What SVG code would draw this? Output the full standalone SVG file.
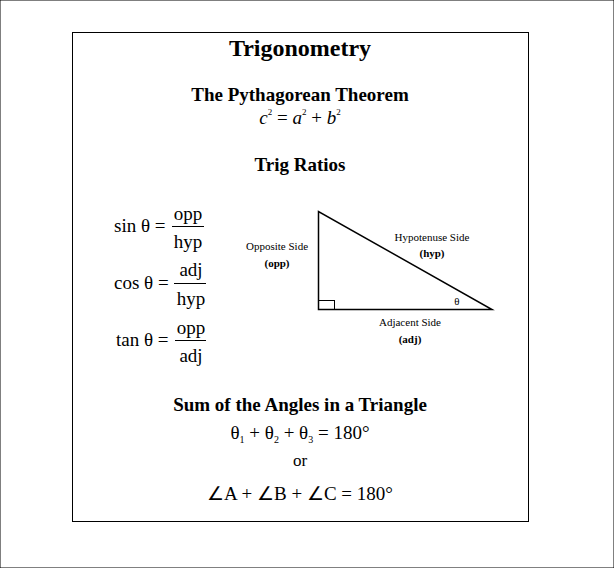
<svg xmlns="http://www.w3.org/2000/svg" width="614" height="568" viewBox="0 0 614 568">
<style>
text{font-family:"Liberation Serif","Times New Roman",serif;fill:#000}
.b{font-weight:bold}
.h{font-size:19px;font-weight:bold}
.m{font-size:19px}
.s{font-size:11px}
.sb{font-size:11px;font-weight:bold}
line,rect,polygon{stroke:#000;fill:none}
</style>
<rect width="614" height="568" fill="#fff" stroke="none"/>
<rect x="72.5" y="32.5" width="456" height="489" stroke-width="1"/>
<text x="300" y="56" text-anchor="middle" font-size="24" class="b">Trigonometry</text>
<text x="300" y="101" text-anchor="middle" class="h">The Pythagorean Theorem</text>
<text x="300" y="124" text-anchor="middle" font-size="19"><tspan font-style="italic">c</tspan><tspan font-size="9" dy="-9">2</tspan><tspan dy="9"> = </tspan><tspan font-style="italic">a</tspan><tspan font-size="9" dy="-9">2</tspan><tspan dy="9"> + </tspan><tspan font-style="italic">b</tspan><tspan font-size="9" dy="-9">2</tspan></text>
<text x="300" y="171" text-anchor="middle" class="h">Trig Ratios</text>
<g id="ratios">
<text x="114" y="232" class="m">sin θ =</text>
<text x="188" y="220" text-anchor="middle" class="m">opp</text>
<line x1="172" y1="226.5" x2="204" y2="226.5"/>
<text x="188" y="248" text-anchor="middle" class="m">hyp</text>
<text x="114" y="289" class="m">cos θ =</text>
<text x="191" y="276" text-anchor="middle" class="m">adj</text>
<line x1="174" y1="283.5" x2="206" y2="283.5"/>
<text x="191" y="305" text-anchor="middle" class="m">hyp</text>
<text x="116" y="346" class="m">tan θ =</text>
<text x="191" y="334" text-anchor="middle" class="m">opp</text>
<line x1="175" y1="340.5" x2="206" y2="340.5"/>
<text x="191" y="362" text-anchor="middle" class="m">adj</text>
</g>
<g id="triangle">
<polygon points="318.5,211.5 318.5,309.5 492,309.5" stroke-width="1.5"/>
<rect x="318.5" y="300.5" width="16" height="9"/>
<text x="457" y="305" text-anchor="middle" class="s">θ</text>
<text x="277" y="250" text-anchor="middle" class="s">Opposite Side</text>
<text x="277" y="267" text-anchor="middle" class="sb">(opp)</text>
<text x="432" y="241" text-anchor="middle" class="s">Hypotenuse Side</text>
<text x="432" y="257" text-anchor="middle" class="sb">(hyp)</text>
<text x="410" y="326" text-anchor="middle" class="s">Adjacent Side</text>
<text x="410" y="343" text-anchor="middle" class="sb">(adj)</text>
</g>
<text x="300" y="411" text-anchor="middle" class="h">Sum of the Angles in a Triangle</text>
<text x="300" y="439" text-anchor="middle" class="m">θ<tspan font-size="10" dy="4">1</tspan><tspan dy="-4"> + θ</tspan><tspan font-size="10" dy="4">2</tspan><tspan dy="-4"> + θ</tspan><tspan font-size="10" dy="4">3</tspan><tspan dy="-4"> = 180°</tspan></text>
<text x="300" y="466" text-anchor="middle" font-size="17">or</text>
<text x="300" y="500" text-anchor="middle" class="m">∠A + ∠B + ∠C = 180°</text>
</svg>
